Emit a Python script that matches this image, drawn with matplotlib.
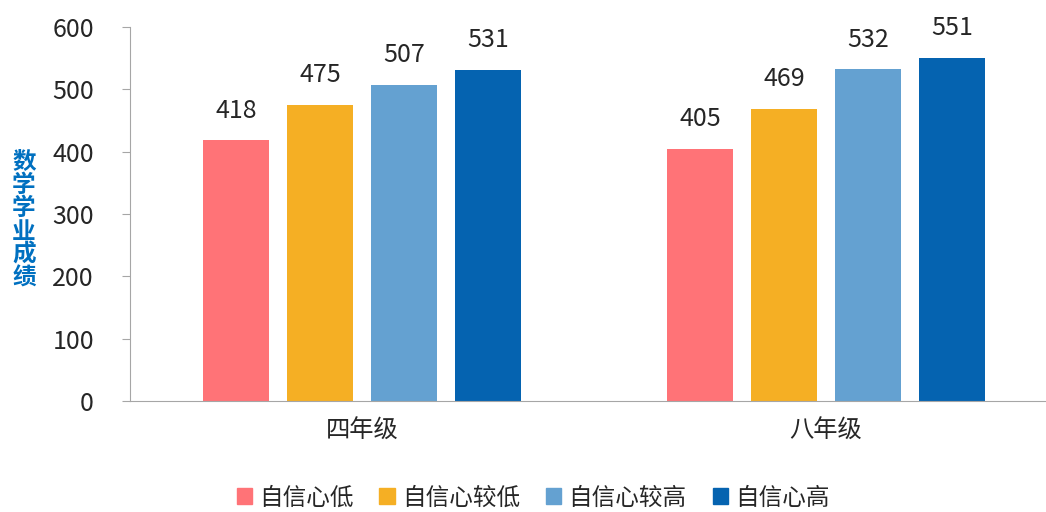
import numpy as np
import matplotlib
matplotlib.use("Agg")
import matplotlib.pyplot as plt
from matplotlib.patches import Patch

plt.rcParams['font.family'] = ['Noto Sans CJK SC', 'DejaVu Sans']

grades = ['四年级', '八年级']
series = ['自信心低', '自信心较低', '自信心较高', '自信心高']
scores = [
    [418, 405],
    [475, 469],
    [507, 532],
    [531, 551],
]
colors = ['#FF7377', '#F5AF24', '#64A1D1', '#0563B0']

fig = plt.figure(figsize=(10.46, 5.12), dpi=100)
ax = fig.add_axes([130 / 1046, 1 - 401 / 512, (1046 - 130) / 1046, 374 / 512])

x = np.arange(len(grades))
width = 0.142
step = 0.181
for i, (name, vals) in enumerate(zip(series, scores)):
    pos = x + (i - 1.5) * step
    ax.bar(pos, vals, width, color=colors[i], label=name)
    for p, v in zip(pos, vals):
        ax.text(p, v + 27, str(v), ha='center', va='bottom', fontsize=18, color='#262626')

ax.set_xlim(-0.5, 1.474)
ax.set_ylim(0, 600)
ax.set_yticks(range(0, 601, 100))
ax.set_xticks(x)
ax.set_xticklabels(grades, fontsize=17.5, color='#262626')
ax.tick_params(axis='y', labelsize=18, labelcolor='#262626', length=6, color='#A6A6A6', pad=20)
ax.tick_params(axis='x', length=0, pad=12)
for side in ['top', 'right']:
    ax.spines[side].set_visible(False)
ax.spines['left'].set_color('#A6A6A6')
ax.spines['bottom'].set_color('#A6A6A6')

fig.text(24 / 1046, 1 - 220 / 512, '\n'.join('数学学业成绩'), ha='center', va='center',
         fontsize=17, fontweight='bold', color='#0070C0', linespacing=0.95)

handles = [Patch(color=c) for c in colors]
fig.legend(handles, series, loc='center', bbox_to_anchor=(533 / 1046, 1 - 498 / 512),
           ncol=4, frameon=False, fontsize=17, handlelength=0.65, handleheight=0.65,
           handletextpad=0.3, columnspacing=1.1, labelcolor='#262626')

fig.savefig('out.png', dpi=100)
